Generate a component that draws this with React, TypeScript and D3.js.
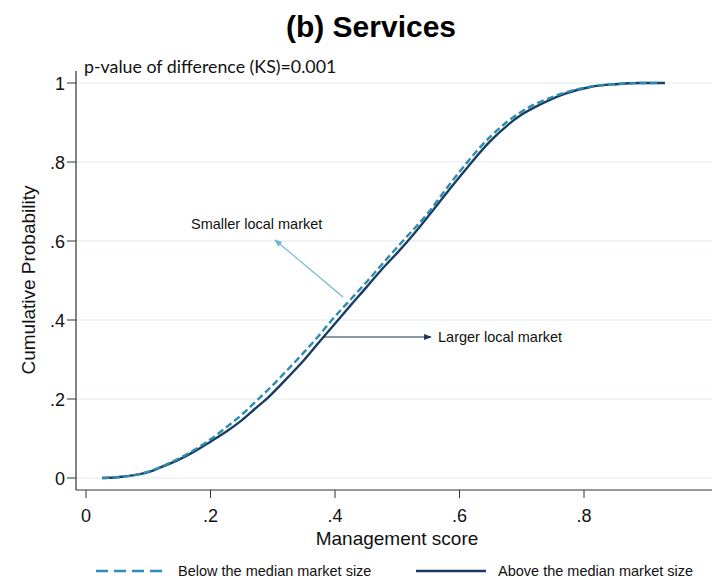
import React from 'react';
import * as d3 from 'd3';

// ---- data ----
const xTicks = [0, 0.2, 0.4, 0.6, 0.8];
const xTickLabels = ['0', '.2', '.4', '.6', '.8'];
const yTicks = [0, 0.2, 0.4, 0.6, 0.8, 1];
const yTickLabels = ['0', '.2', '.4', '.6', '.8', '1'];

// Above the median market size (solid)
const aboveX = [0.026, 0.05, 0.08, 0.10, 0.12, 0.15, 0.175, 0.20, 0.225, 0.25, 0.275, 0.292, 0.325, 0.35, 0.375, 0.405, 0.425, 0.45, 0.475, 0.50, 0.517, 0.55, 0.585, 0.612, 0.649, 0.70, 0.729, 0.77, 0.81, 0.85, 0.89, 0.93];
const aboveY = [0, 0.002, 0.008, 0.015, 0.027, 0.047, 0.068, 0.092, 0.117, 0.146, 0.18, 0.203, 0.256, 0.298, 0.345, 0.40, 0.437, 0.482, 0.528, 0.57, 0.60, 0.663, 0.733, 0.785, 0.852, 0.92, 0.945, 0.973, 0.99, 0.997, 1.0, 1.0];

// Below the median market size (dashed)
const belowX = [0.026, 0.05, 0.08, 0.10, 0.12, 0.15, 0.175, 0.20, 0.225, 0.25, 0.277, 0.30, 0.325, 0.35, 0.375, 0.395, 0.425, 0.45, 0.475, 0.509, 0.55, 0.58, 0.605, 0.65, 0.70, 0.75, 0.80, 0.85, 0.90, 0.92];
const belowY = [0, 0.002, 0.008, 0.016, 0.028, 0.05, 0.072, 0.098, 0.128, 0.16, 0.20, 0.235, 0.276, 0.318, 0.362, 0.40, 0.452, 0.495, 0.54, 0.60, 0.672, 0.735, 0.785, 0.865, 0.928, 0.965, 0.988, 0.997, 1.0, 1.0];

const legendLabels = ['Below the median market size', 'Above the median market size'];

const W = 712;
const H = 579;
const FONT = '"Liberation Sans", Arial, sans-serif';
const DASH_COLOR = '#2a8db3';
const SOLID_COLOR = '#1b3d5f';

export default function App() {
  const x = d3.scaleLinear().domain([0, 0.8]).range([86, 584]);
  const y = d3.scaleLinear().domain([0, 1]).range([478, 83]);
  const axisX = 76;
  const axisY = 490;

  const line = d3
    .line<[number, number]>()
    .x((d) => x(d[0]))
    .y((d) => y(d[1]))
    .curve(d3.curveMonotoneX);

  const above = aboveX.map((v, i) => [v, aboveY[i]] as [number, number]);
  const below = belowX.map((v, i) => [v, belowY[i]] as [number, number]);

  return (
    <svg
      width={W}
      height={H}
      style={{ position: 'absolute', left: 0, top: 0, background: '#fff' }}
      fontFamily={FONT}
    >
      <defs>
        <marker id="arrLight" viewBox="0 0 10 10" refX="9" refY="5" markerWidth="7" markerHeight="7" orient="auto">
          <path d="M0,1 L10,5 L0,9 z" fill="#6ab6d4" />
        </marker>
        <marker id="arrDark" viewBox="0 0 10 10" refX="9" refY="5" markerWidth="7" markerHeight="7" orient="auto">
          <path d="M0,1 L10,5 L0,9 z" fill="#1f3356" />
        </marker>
      </defs>
      <rect x={0} y={0} width={W} height={H} fill="#fff" />

      {/* title */}
      <text x={371} y={37} textAnchor="middle" fontSize={30} fontWeight="bold" fill="#000">
        (b) Services
      </text>

      {/* gridlines */}
      {yTicks.map((t) => (
        <line key={'g' + t} x1={axisX} x2={W} y1={y(t)} y2={y(t)} stroke="#eaf0f1" strokeWidth={1.6} />
      ))}

      {/* axes */}
      <line x1={axisX} x2={axisX} y1={71} y2={axisY} stroke="#333" strokeWidth={1.2} />
      <line x1={axisX} x2={W} y1={axisY} y2={axisY} stroke="#333" strokeWidth={1.2} />

      {yTicks.map((t, i) => (
        <g key={'yt' + t}>
          <line x1={axisX - 9} x2={axisX} y1={y(t)} y2={y(t)} stroke="#333" strokeWidth={1} />
          <text x={65} y={y(t) + 6.5} textAnchor="end" fontSize={18} fill="#111">
            {yTickLabels[i]}
          </text>
        </g>
      ))}
      {xTicks.map((t, i) => (
        <g key={'xt' + t}>
          <line x1={x(t)} x2={x(t)} y1={axisY} y2={axisY + 8} stroke="#333" strokeWidth={1} />
          <text x={x(t)} y={522} textAnchor="middle" fontSize={18} fill="#111">
            {xTickLabels[i]}
          </text>
        </g>
      ))}

      {/* axis titles */}
      <text x={397} y={545} textAnchor="middle" fontSize={19} fill="#111">
        Management score
      </text>
      <text transform="translate(35,280) rotate(-90)" textAnchor="middle" fontSize={19} fill="#111">
        Cumulative Probability
      </text>

      {/* p-value */}
      <text x={84} y={73} fontSize={17.8} fontFamily="Lato, 'Open Sans', sans-serif" fill="#111">
        p-value of difference (KS)=0.001
      </text>

      {/* curves */}
      <path d={line(above) || ''} fill="none" stroke={SOLID_COLOR} strokeWidth={2.4} />
      <path d={line(below) || ''} fill="none" stroke={DASH_COLOR} strokeWidth={2.4} strokeDasharray="7,3.5" />

      {/* annotations */}
      <line x1={343} y1={297} x2={275} y2={240} stroke="#6ab6d4" strokeWidth={1.1} markerEnd="url(#arrLight)" />
      <text x={191} y={229} fontSize={14.5} fill="#111">Smaller local market</text>
      <line x1={323} y1={337} x2={431} y2={337} stroke="#1f3356" strokeWidth={1.1} markerEnd="url(#arrDark)" />
      <text x={438} y={342} fontSize={14.5} fill="#111">Larger local market</text>

      {/* legend */}
      <line x1={96} x2={168} y1={571} y2={571} stroke={DASH_COLOR} strokeWidth={2.4} strokeDasharray="12,6" />
      <text x={178} y={576} fontSize={14.5} fill="#111">{legendLabels[0]}</text>
      <line x1={416} x2={486} y1={571} y2={571} stroke={SOLID_COLOR} strokeWidth={2.4} />
      <text x={498} y={576} fontSize={14.5} fill="#111">{legendLabels[1]}</text>
    </svg>
  );
}
